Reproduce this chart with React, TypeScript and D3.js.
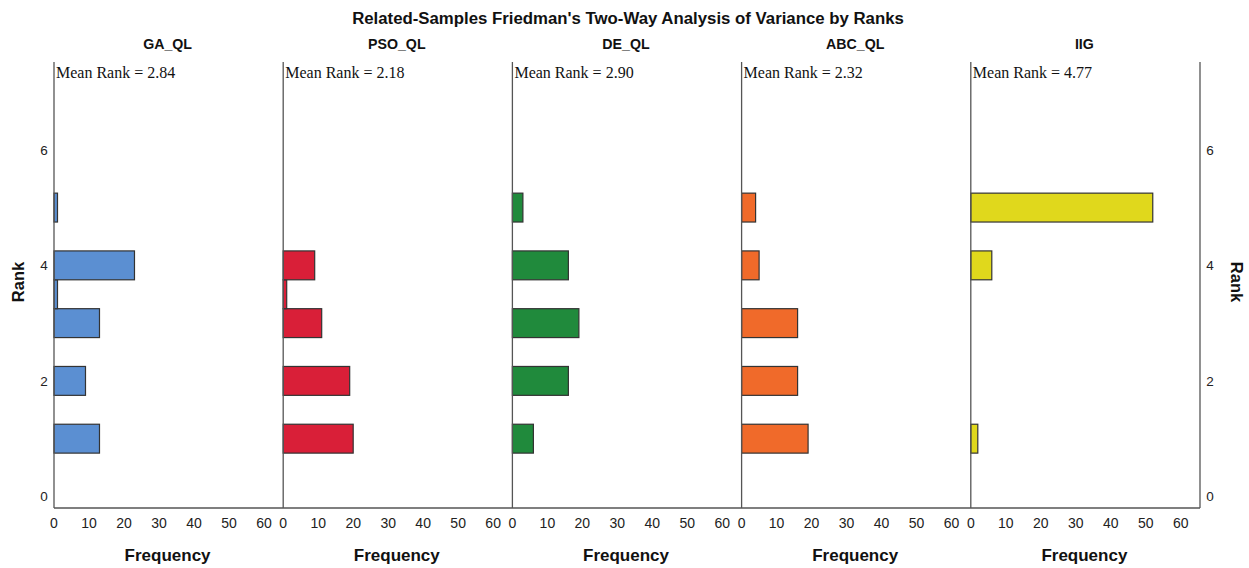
import * as d3 from 'd3';

const W = 1249;
const H = 568;

const panelNames = ['GA_QL', 'PSO_QL', 'DE_QL', 'ABC_QL', 'IIG'];
const meanRanks = ['2.84', '2.18', '2.90', '2.32', '4.77'];
const panelColors = ['#5b8fd2', '#d91f38', '#208a3c', '#f06a2a', '#e0d81c'];

// rank bins (bin width 0.5)
const rankBins = [1, 2, 3, 3.5, 4, 5];
const gaFreq = [13, 9, 13, 1, 23, 1];
const psoFreq = [20, 19, 11, 1, 9, 0];
const deFreq = [6, 16, 19, 0, 16, 3];
const abcFreq = [19, 16, 16, 0, 5, 4];
const iigFreq = [2, 0, 0, 0, 6, 52];
const freqs = [gaFreq, psoFreq, deFreq, abcFreq, iigFreq];

const freqTicks = [0, 10, 20, 30, 40, 50, 60];
const rankTicks = [0, 2, 4, 6];

const left = 54;
const right = 1200;
const top = 62;
const bottom = 508;
const panelW = (right - left) / panelNames.length;

const sans = '"Liberation Sans", Arial, sans-serif';
const serif = '"Liberation Serif", "Times New Roman", serif';

export default function App() {
  const y = d3.scaleLinear().domain([-0.2, 7.52]).range([bottom, top]);
  const x = d3.scaleLinear().domain([0, 65.5]).range([0, panelW]);
  const binH = y(0) - y(0.5);

  return (
    <svg width={W} height={H} style={{ position: 'absolute', left: 0, top: 0 }}>
      <rect width={W} height={H} fill="#fff" />
      <text x={628} y={24} textAnchor="middle" fontFamily={sans} fontWeight="bold" fontSize={16.8} fill="#111">
        Related-Samples Friedman's Two-Way Analysis of Variance by Ranks
      </text>

      {panelNames.map((name, i) => {
        const x0 = left + i * panelW;
        return (
          <g key={name} transform={`translate(${x0},0)`}>
            <text x={panelW / 2 - 1} y={49} textAnchor="middle" fontFamily={sans} fontWeight="bold" fontSize={14.2} fill="#111">
              {name}
            </text>
            <text x={2} y={78} fontFamily={serif} fontSize={16} fill="#111">
              Mean Rank = {meanRanks[i]}
            </text>
            {rankBins.map((r, j) =>
              freqs[i][j] > 0 ? (
                <rect
                  key={r}
                  x={x(0)}
                  y={y(r + 0.25)}
                  width={x(freqs[i][j]) - x(0)}
                  height={binH}
                  fill={panelColors[i]}
                  stroke="#333"
                  strokeWidth={1.2}
                />
              ) : null
            )}
            <line x1={0} x2={0} y1={top} y2={bottom} stroke="#555" strokeWidth={1.3} />
            {freqTicks.map((t) => (
              <text key={t} x={x(t)} y={528} textAnchor="middle" fontFamily={sans} fontSize={14} fill="#222">
                {t}
              </text>
            ))}
            <text x={panelW / 2 - 1} y={561} textAnchor="middle" fontFamily={sans} fontWeight="bold" fontSize={17} fill="#111">
              Frequency
            </text>
          </g>
        );
      })}

      <line x1={right} x2={right} y1={top} y2={bottom} stroke="#555" strokeWidth={1.3} />
      <line x1={left} x2={right} y1={bottom} y2={bottom} stroke="#555" strokeWidth={1.3} />

      {rankTicks.map((t) => (
        <g key={t}>
          <text x={44} y={y(t) + 5} textAnchor="middle" fontFamily={sans} fontSize={13.5} fill="#222">
            {t}
          </text>
          <text x={1210} y={y(t) + 5} textAnchor="middle" fontFamily={sans} fontSize={13.5} fill="#222">
            {t}
          </text>
        </g>
      ))}

      <text transform={`translate(24,${282}) rotate(-90)`} textAnchor="middle" fontFamily={sans} fontWeight="bold" fontSize={16.5} fill="#111">
        Rank
      </text>
      <text transform={`translate(1231,${282}) rotate(90)`} textAnchor="middle" fontFamily={sans} fontWeight="bold" fontSize={16.5} fill="#111">
        Rank
      </text>
    </svg>
  );
}
